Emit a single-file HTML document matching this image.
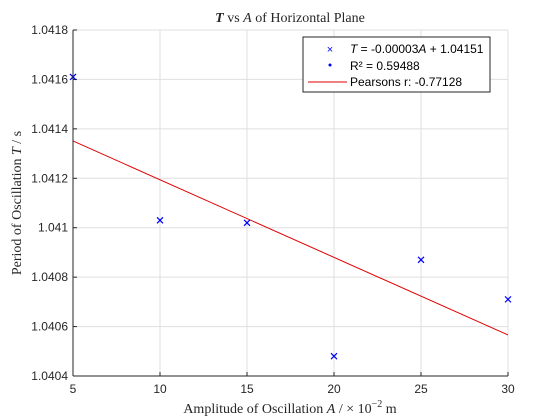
<!DOCTYPE html>
<html><head><meta charset="utf-8"><style>
body{margin:0;background:#fff;}
svg{display:block;font-family:"Liberation Sans",sans-serif;}
</style></head><body>
<svg id="c" width="560" height="420">
<rect x="0" y="0" width="560" height="420" fill="#fff"/>
<rect x="73" y="30" width="435" height="346" fill="#fff"/>
<g id="grid"></g><g id="ticks"></g><g id="marks"></g>
<line x1="73" y1="30" x2="73" y2="376" stroke="#262626" stroke-width="1"/>
<line x1="73" y1="376" x2="508" y2="376" stroke="#262626" stroke-width="1"/>
<text x="290" y="22" text-anchor="middle" font-family="Liberation Serif,serif" font-size="14" fill="#262626"><tspan font-style="italic" font-weight="bold">T</tspan> vs <tspan font-style="italic">A</tspan> of Horizontal Plane</text>
<text x="290" y="413" text-anchor="middle" font-family="Liberation Serif,serif" font-size="14" fill="#262626">Amplitude of Oscillation <tspan font-style="italic">A</tspan> / × 10<tspan dy="-6" font-size="10">−2</tspan><tspan dy="6"> m</tspan></text>
<text transform="translate(21,203) rotate(-90)" text-anchor="middle" font-family="Liberation Serif,serif" font-size="14" fill="#262626">Period of Oscillation <tspan font-style="italic">T</tspan> / s</text>
<g>
<rect x="303" y="37" width="187" height="55" fill="#fff" stroke="#262626" stroke-width="1"/>
<text x="330" y="53" text-anchor="middle" font-size="11" fill="#0000ff">×</text>
<text x="350" y="53" font-size="12" fill="#000"><tspan font-style="italic">T</tspan> = -0.00003<tspan font-style="italic">A</tspan>  + 1.04151</text>
<circle cx="330" cy="65" r="1.5" fill="#0000ff"/>
<text x="350" y="70" font-size="12" fill="#000">R² = 0.59488</text>
<line x1="308" y1="82" x2="347" y2="82" stroke="#e00000" stroke-width="1"/>
<text x="350" y="86" font-size="12" fill="#000">Pearsons r: -0.77128</text>
</g>
</svg>
<script>
const amplitudes=[5,10,15,20,25,30];
const periods=[1.04161,1.04103,1.04102,1.04048,1.04087,1.04071];
const fitSlope=[-0.0000314];
const fitIntercept=[1.041508];
const xTicks=[5,10,15,20,25,30];
const yTicks=[1.0404,1.0406,1.0408,1.041,1.0412,1.0414,1.0416,1.0418];
const yTickLabels=["1.0404","1.0406","1.0408","1.041","1.0412","1.0414","1.0416","1.0418"];
const L=73,R=508,T=30,B=376,xmin=5,xmax=30,ymin=1.0404,ymax=1.0418;
const sx=v=>L+(v-xmin)/(xmax-xmin)*(R-L);
const sy=v=>B-(v-ymin)/(ymax-ymin)*(B-T);
const NS="http://www.w3.org/2000/svg";
function mk(t,a,p){const e=document.createElementNS(NS,t);for(const k in a)e.setAttribute(k,a[k]);p.appendChild(e);return e;}
const grid=document.getElementById('grid'),ticks=document.getElementById('ticks'),marks=document.getElementById('marks');
xTicks.forEach(v=>{const x=sx(v);
 const g=mk('line',{x1:x,x2:x,y1:T,y2:B,stroke:'#dfdfdf'},grid);
 
 
 const t=mk('line',{x1:x,x2:x,y1:B,y2:B-4,stroke:'#262626'},ticks);
 
 
 const l=mk('text',{x:x,y:B+17,'text-anchor':'middle','font-size':'12',fill:'#262626'},ticks);l.textContent=v;
 
 
});
yTicks.forEach((v,i)=>{const y=sy(v);
 const g=mk('line',{x1:L,x2:R,y1:y,y2:y,stroke:'#dfdfdf'},grid);
 
 
 const t=mk('line',{x1:L,x2:L+4,y1:y,y2:y,stroke:'#262626'},ticks);
 
 
 const l=mk('text',{x:L-5,y:y+4,'text-anchor':'end','font-size':'12',fill:'#262626'},ticks);l.textContent=yTickLabels[i];
 
 
});
const fit=mk('line',{x1:sx(xmin),y1:sy(fitIntercept[0]+fitSlope[0]*xmin),x2:sx(xmax),y2:sy(fitIntercept[0]+fitSlope[0]*xmax),stroke:'#e00000','stroke-width':1},marks);


amplitudes.forEach((a,i)=>{const x=sx(a),y=sy(periods[i]);
 const p=mk('path',{d:`M${x-3},${y-3}L${x+3},${y+3}M${x-3},${y+3}L${x+3},${y-3}`,stroke:'#0000ff','stroke-width':1.2},marks);
 
 
});
</script>
</body></html>
